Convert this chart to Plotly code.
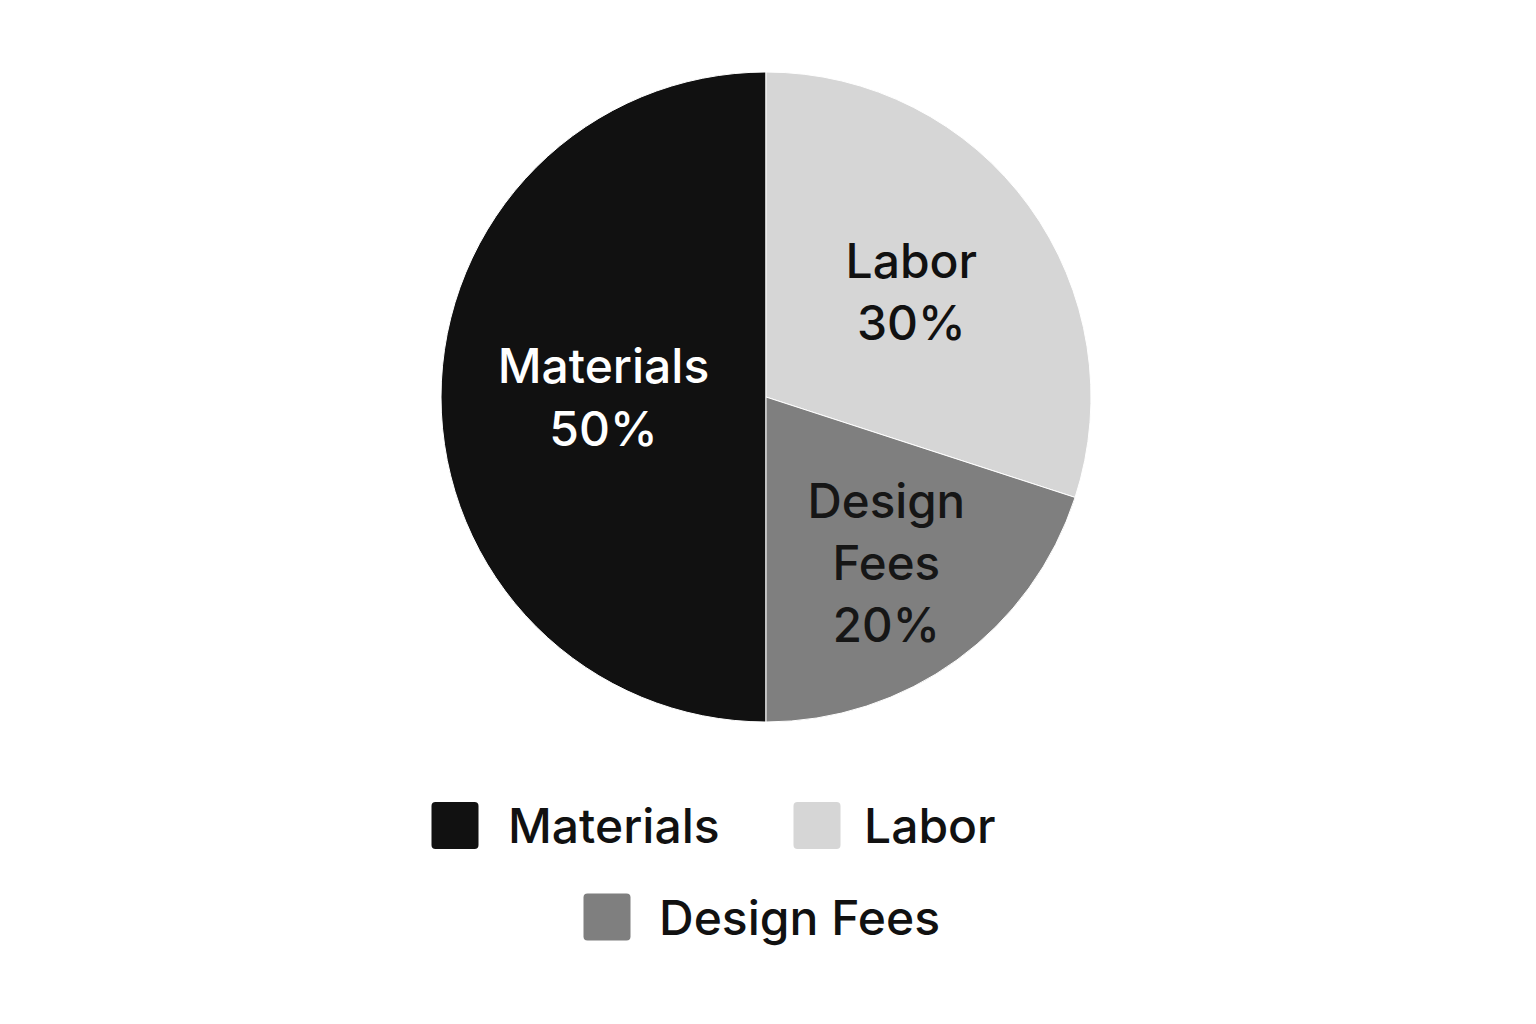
import plotly.graph_objects as go

labels = ["Materials", "Labor", "Design Fees"]
slice_text = ["Materials", "Labor", "Design<br>Fees"]
values = [50, 30, 20]
colors = ["#111111", "#d6d6d6", "#7f7f7f"]
text_colors = ["#ffffff", "#111111", "#161616"]

FONT = "Inter, Noto Sans, sans-serif"
FONT_SIZE = 48
WEIGHT = 450

# Page geometry: the plot div sits inside the default 8px body margin
OFF = 8
W, H = 1536 - 2 * OFF, 1024 - 2 * OFF


def px(x):
    return (x - OFF) / W


def py(y):
    return 1 - (y - OFF) / H


# pie centre / radius in page pixels
CX, CY, R = 766, 397, 325

fig = go.Figure()
fig.add_trace(go.Pie(
    labels=labels,
    values=values,
    text=slice_text,
    texttemplate="%{text}<br>%{percent:.0%}",
    textposition="inside",
    insidetextorientation="horizontal",
    insidetextfont=dict(family=FONT, size=FONT_SIZE, color=text_colors, weight=WEIGHT),
    marker=dict(colors=colors, line=dict(color="#ffffff", width=1)),
    sort=False,
    direction="clockwise",
    rotation=180,
    hoverinfo="label+percent",
    showlegend=False,
    domain=dict(x=[px(CX - R), px(CX + R)], y=[py(CY + R), py(CY - R)]),
))

# Manual legend (large rounded swatches, centred rows)
legend_pos = [(455, 825.5, 506), (817, 825.5, 862), (607, 917, 657)]  # swatch cx, cy, text x (page px)


def rounded_rect(x0, y0, x1, y1, r):
    pts = [
        f"M{px(x0 + r)},{py(y0)}",
        f"L{px(x1 - r)},{py(y0)}",
        f"Q{px(x1)},{py(y0)} {px(x1)},{py(y0 + r)}",
        f"L{px(x1)},{py(y1 - r)}",
        f"Q{px(x1)},{py(y1)} {px(x1 - r)},{py(y1)}",
        f"L{px(x0 + r)},{py(y1)}",
        f"Q{px(x0)},{py(y1)} {px(x0)},{py(y1 - r)}",
        f"L{px(x0)},{py(y0 + r)}",
        f"Q{px(x0)},{py(y0)} {px(x0 + r)},{py(y0)}",
        "Z",
    ]
    return " ".join(pts)


shapes = []
annotations = []
for (cx, cy, tx), lab, col in zip(legend_pos, labels, colors):
    s = 23.5
    shapes.append(dict(
        type="path", xref="paper", yref="paper",
        path=rounded_rect(cx - s, cy - s, cx + s, cy + s, 4),
        fillcolor=col, line=dict(width=0), layer="above",
    ))
    annotations.append(dict(
        text=lab, xref="paper", yref="paper", x=px(tx), y=py(cy),
        xanchor="left", yanchor="middle", showarrow=False,
        font=dict(family=FONT, size=FONT_SIZE, color="#111111", weight=WEIGHT),
    ))

fig.update_layout(
    margin=dict(l=0, r=0, t=0, b=0),
    paper_bgcolor="#ffffff",
    plot_bgcolor="#ffffff",
    shapes=shapes,
    annotations=annotations,
    showlegend=False,
)

fig.write_html("out.html", config={"displayModeBar": False})
